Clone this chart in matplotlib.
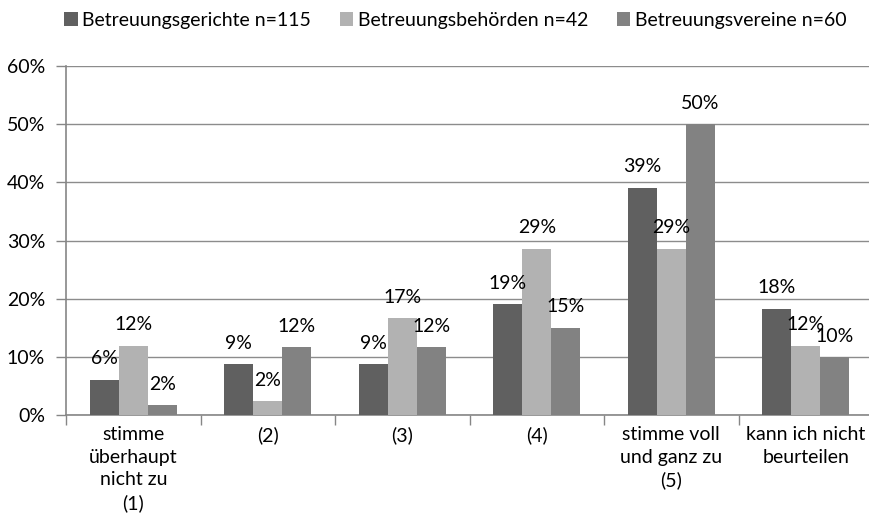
import numpy as np
import matplotlib.pyplot as plt
from matplotlib.ticker import FixedLocator, PercentFormatter

plt.rcParams['font.family'] = ['Lato', 'DejaVu Sans']

# answer categories and shares per respondent group (in %)
categories = [
    "stimme\nüberhaupt\nnicht zu\n(1)",
    "(2)",
    "(3)",
    "(4)",
    "stimme voll\nund ganz zu\n(5)",
    "kann ich nicht\nbeurteilen",
]
gerichte = [6.1, 8.7, 8.7, 19.1, 39.1, 18.3]
behoerden = [11.9, 2.4, 16.7, 28.6, 28.6, 11.9]
vereine = [1.7, 11.7, 11.7, 15.0, 50.0, 10.0]

series = [
    ("Betreuungsgerichte n=115", gerichte, "#606060"),
    ("Betreuungsbehörden n=42", behoerden, "#b2b2b2"),
    ("Betreuungsvereine n=60", vereine, "#828282"),
]

fig = plt.figure(figsize=(8.69, 5.31), dpi=100)
ax = fig.add_axes([66 / 869, 116 / 531, 807 / 869, 349 / 531])

x = np.arange(len(categories))
w = 0.216
fs = 14

for i, (name, vals, col) in enumerate(series):
    pos = x + (i - 1) * w
    bars = ax.bar(pos, vals, width=w, color=col, label=name, zorder=3)
    for b, v in zip(bars, vals):
        ax.annotate(f"{v:.0f}%", (b.get_x() + b.get_width() / 2, v),
                    xytext=(0, 15), textcoords="offset points",
                    ha="center", va="center", fontsize=fs, color="#000000",
                    zorder=4)

ax.set_xlim(-0.5, len(categories) - 0.5)
ax.set_ylim(0, 60)
ax.set_yticks(np.arange(0, 61, 10))
ax.yaxis.set_major_formatter(PercentFormatter(decimals=0))
ax.grid(axis="y", color="#8c8c8c", linewidth=1, zorder=0)

ax.set_xticks(x)
ax.set_xticklabels(categories, fontsize=fs, linespacing=1.4, va="top")
ax.tick_params(axis="x", which="major", length=0, pad=8)
ax.xaxis.set_minor_locator(FixedLocator(np.arange(-0.5, len(categories), 1.0)))
ax.tick_params(axis="x", which="minor", length=7, color="#868686", width=1)
ax.tick_params(axis="y", length=7, color="#868686", width=1, labelsize=fs, pad=8)

for side in ("top", "right"):
    ax.spines[side].set_visible(False)
for side in ("left", "bottom"):
    ax.spines[side].set_color("#868686")
    ax.spines[side].set_linewidth(1.2)

fig.legend(loc="center", bbox_to_anchor=(0.524, 0.962), ncol=3, frameon=False,
           fontsize=fs, handlelength=0.7, handleheight=0.7, handletextpad=0.25,
           columnspacing=1.45)

fig.savefig("out.png", dpi=100)
